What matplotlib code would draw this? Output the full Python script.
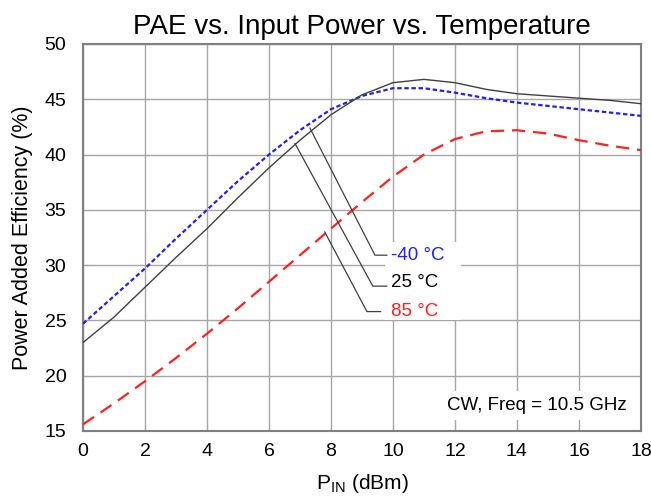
import matplotlib.pyplot as plt

# Input power (dBm)
pin = [0, 1, 2, 3, 4, 5, 6, 7, 8, 9, 10, 11, 12, 13, 14, 15, 16, 17, 18]

# PAE (%) per temperature
pae_m40 = [24.7, 27.2, 29.7, 32.4, 35.0, 37.6, 40.0, 42.2, 44.1, 45.3, 46.0, 46.0, 45.6, 45.1, 44.7, 44.4, 44.1, 43.8, 43.5]
pae_25 = [23.0, 25.3, 28.0, 30.7, 33.3, 36.1, 38.8, 41.3, 43.6, 45.4, 46.5, 46.8, 46.5, 45.9, 45.5, 45.3, 45.1, 44.9, 44.6]
pae_85 = [15.6, 17.5, 19.5, 21.6, 23.8, 26.1, 28.5, 30.9, 33.3, 35.7, 38.0, 40.0, 41.4, 42.1, 42.2, 41.9, 41.3, 40.8, 40.4]

plt.rcParams["font.family"] = ["Liberation Sans", "DejaVu Sans"]

fig = plt.figure(figsize=(6.51, 4.97), dpi=100)
ax = fig.add_axes([0.1275, 0.1328, 0.857, 0.7787])

ax.plot(pin, pae_m40, color="#1f1fff", linestyle=(0, (2, 1.2)), linewidth=1.6, zorder=3)
ax.plot(pin, pae_25, color="#404040", linestyle="-", linewidth=1.0, zorder=3)
ax.plot(pin, pae_85, color="#ff2020", linestyle=(0, (6, 3.5)), linewidth=1.6, zorder=3)

# Leader lines to the labels
leaders = [
    ((7.32, 42.4), (9.42, 30.9), (9.8, 30.9)),
    ((6.84, 41.0), (9.35, 28.1), (9.8, 28.1)),
    ((7.8, 33.0), (9.16, 25.8), (9.6, 25.8)),
]
for p0, p1, p2 in leaders:
    ax.plot([p0[0], p1[0], p2[0]], [p0[1], p1[1], p2[1]], color="#404040", linewidth=0.9, zorder=4)

# White boxes behind the labels
ax.add_patch(plt.Rectangle((9.74, 25.0), 2.46, 7.1, facecolor="white", edgecolor="none", zorder=2))
ax.add_patch(plt.Rectangle((11.5, 16.0), 6.45, 2.6, facecolor="white", edgecolor="none", zorder=2))

ax.text(9.95, 30.9, "-40 °C", color="#1f1fff", fontsize=13.5, va="center", zorder=5)
ax.text(9.95, 28.4, "25 °C", color="black", fontsize=13.5, va="center", zorder=5)
ax.text(9.95, 25.85, "85 °C", color="#ff2020", fontsize=13.5, va="center", zorder=5)
ax.text(17.55, 17.3, "CW, Freq = 10.5 GHz", color="black", fontsize=13.5, ha="right", va="center", zorder=5)

ax.set_xlim(0, 18)
ax.set_ylim(15, 50)
ax.set_xticks(range(0, 19, 2))
ax.set_yticks(range(15, 51, 5))
ax.grid(True, color="#a6a6a6", linewidth=1.0, zorder=1)
ax.set_axisbelow(True)
for s in ax.spines.values():
    s.set_color("#808080")
    s.set_linewidth(1.5)
ax.tick_params(direction="in", length=4, color="#a6a6a6", labelsize=14)
ax.tick_params(axis="x", pad=9)
ax.tick_params(axis="y", pad=12)

ax.set_title("PAE vs. Input Power vs. Temperature", fontsize=20, pad=7)
ax.set_xlabel("P$_{\\mathregular{IN}}$ (dBm)", fontsize=15, labelpad=8)
ax.set_ylabel("Power Added Efficiency (%)", fontsize=15.5, labelpad=8)

fig.savefig("out.png", dpi=100)
